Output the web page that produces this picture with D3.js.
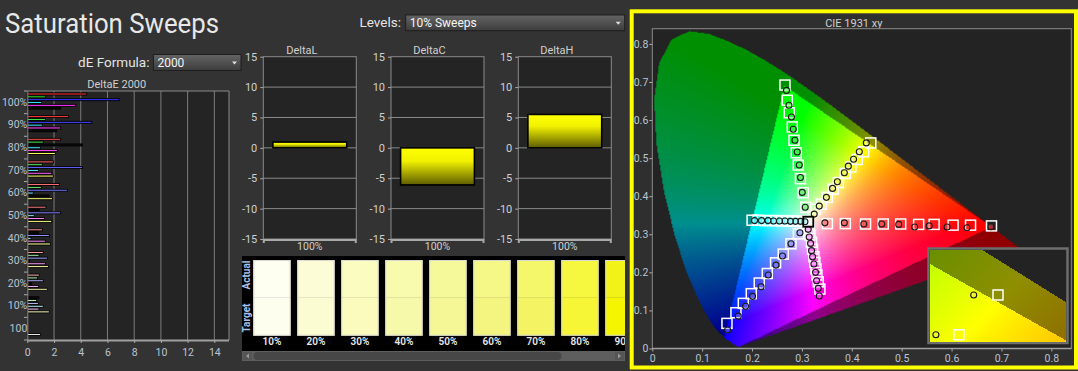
<!DOCTYPE html>
<html><head><meta charset="utf-8">
<script src="https://cdn.jsdelivr.net/npm/d3@7"></script>
<style>
body{margin:0;background:#333;overflow:hidden}
svg{display:block;font-family:Roboto,"Noto Sans",sans-serif}
</style>
</head><body>
<svg id="c" width="1078" height="371"></svg>
<script>
// ---------------- DATA ----------------
const deLevels = ["100%","90%","80%","70%","60%","50%","40%","30%","20%","10%","100"];
const deSeries = ["Red","Green","Blue","Cyan","Magenta","Yellow"];
const deRed     = [4.45,3.10,2.50,1.95,2.40,1.40,1.13,1.20,0.90,0.87];
const deGreen   = [1.35,1.35,1.20,1.13,1.05,0.90,0.85,0.88,0.77,0.70];
const deBlue    = [6.88,4.83,4.13,4.13,3.00,2.50,1.65,1.50,1.20,0.83];
const deCyan    = [1.08,1.13,0.98,0.83,0.45,0.52,0.28,0.18,0.33,1.20];
const deMagenta = [3.63,2.50,2.25,1.83,1.63,1.28,1.35,1.35,0.85,0.87];
const deYellow  = [2.50,2.20,2.10,1.95,1.88,1.83,1.73,1.58,1.50,1.65];
const deWhite100 = 1.0;
const deTicks = [0,2,4,6,8,10,12,14];

const deltaCats = ["100%"];
const deltaL = [0.95];
const deltaC = [-6.1];
const deltaH = [5.5];
const deltaTicks = [-15,-10,-5,0,5,10,15];

const swatchLevels = ["10%","20%","30%","40%","50%","60%","70%","80%","90%"];
const swatchActual = ["#fefff0","#fcfdd6","#fafcc0","#f8fbae","#f6f99a","#f5f886","#f5f76a","#f6f840","#f2f218"];
const swatchTarget = ["#fefeee","#fcfcd3","#fafbbd","#f7f9aa","#f5f796","#f4f480","#f4f364","#f6f636","#f5f500"];

const cieTicks = [0,0.1,0.2,0.3,0.4,0.5,0.6,0.7,0.8];
const redTargetX = [0.351,0.387,0.4275,0.463,0.498,0.534,0.565,0.603,0.638,0.680];
const redTargetY = [0.328,0.328,0.327,0.327,0.327,0.326,0.326,0.324,0.324,0.322];
const redMeasX   = [0.346,0.385,0.424,0.460,0.494,0.526,0.555,0.591,0.631,0.679];
const redMeasY   = [0.330,0.330,0.327,0.327,0.326,0.319,0.322,0.319,0.317,0.320];
const greenTargetX = [0.308,0.3026,0.297,0.2926,0.2886,0.284,0.2806,0.2745,0.2705,0.266];
const greenTargetY = [0.371,0.409,0.446,0.482,0.514,0.547,0.582,0.619,0.652,0.692];
const greenMeasX   = [0.3066,0.3006,0.297,0.2946,0.2906,0.286,0.2826,0.279,0.274,0.269];
const greenMeasY   = [0.371,0.410,0.449,0.482,0.516,0.547,0.576,0.608,0.639,0.678];
const blueTargetX = [0.293,0.278,0.2625,0.2471,0.2305,0.2144,0.1984,0.1824,0.1677,0.1497];
const blueTargetY = [0.301,0.275,0.248,0.225,0.197,0.172,0.144,0.1186,0.094,0.066];
const blueMeasX   = [0.296,0.278,0.261,0.248,0.2325,0.218,0.201,0.187,0.1723,0.151];
const blueMeasY   = [0.304,0.275,0.243,0.219,0.193,0.162,0.137,0.111,0.085,0.0486];
const cyanTargetX = [0.302,0.292,0.281,0.270,0.259,0.248,0.236,0.225,0.212,0.200];
const cyanTargetY = [0.334,0.334,0.335,0.335,0.335,0.336,0.336,0.336,0.337,0.337];
const cyanMeasX   = [0.306,0.297,0.287,0.277,0.266,0.255,0.243,0.232,0.219,0.205];
const cyanMeasY   = [0.333,0.334,0.334,0.334,0.335,0.335,0.335,0.336,0.336,0.336];
const magentaTargetX = [0.3146,0.316,0.3193,0.3213,0.324,0.326,0.328,0.330,0.3327,0.336];
const magentaTargetY = [0.3155,0.298,0.279,0.261,0.241,0.226,0.209,0.193,0.175,0.156];
const magentaMeasX   = [0.3126,0.3146,0.3173,0.3193,0.3213,0.324,0.3273,0.3293,0.3327,0.3347];
const magentaMeasY   = [0.313,0.293,0.276,0.257,0.241,0.222,0.200,0.178,0.158,0.138];
const yellowTargetX = [0.327,0.339,0.3507,0.3627,0.373,0.387,0.398,0.411,0.4235,0.438];
const yellowTargetY = [0.366,0.379,0.397,0.4186,0.436,0.460,0.477,0.4966,0.5166,0.540];
const yellowMeasX   = [0.3246,0.3347,0.349,0.3614,0.371,0.385,0.393,0.4035,0.415,0.429];
const yellowMeasY   = [0.353,0.374,0.397,0.4205,0.438,0.4615,0.479,0.497,0.5166,0.540];
const whiteTarget = [0.3127,0.333];

// CIE 1931 spectral locus (x, y)
const locusX = [0.1741,0.1740,0.1738,0.1736,0.1733,0.1730,0.1726,0.1721,0.1714,0.1703,0.1689,0.1669,0.1644,0.1611,0.1566,0.1510,0.1440,0.1355,0.1241,0.1096,0.0913,0.0687,0.0454,0.0235,0.0082,0.0039,0.0139,0.0389,0.0743,0.1142,0.1547,0.1929,0.2296,0.2658,0.3016,0.3373,0.3731,0.4087,0.4441,0.4788,0.5125,0.5448,0.5752,0.6029,0.6270,0.6482,0.6658,0.6801,0.6915,0.7006,0.7079,0.7140,0.7190,0.7230,0.7260,0.7283,0.7300,0.7311,0.7320,0.7334,0.7347];
const locusY = [0.0050,0.0050,0.0049,0.0049,0.0048,0.0048,0.0048,0.0048,0.0051,0.0058,0.0069,0.0086,0.0109,0.0138,0.0177,0.0227,0.0297,0.0399,0.0578,0.0868,0.1327,0.2007,0.2950,0.4127,0.5384,0.6548,0.7502,0.8120,0.8338,0.8262,0.8059,0.7816,0.7543,0.7243,0.6923,0.6589,0.6245,0.5896,0.5547,0.5202,0.4866,0.4544,0.4242,0.3965,0.3725,0.3514,0.3340,0.3197,0.3083,0.2993,0.2920,0.2859,0.2809,0.2770,0.2740,0.2717,0.2700,0.2689,0.2680,0.2666,0.2653];
// target gamut (P3) vertices used for the bright region
const gamutX = [0.265,0.680,0.1741,0.139];
const gamutY = [0.690,0.320,0.005,0.000];

// ---------------- STYLE ----------------
const seriesColor = {Red:"#ff3030",Green:"#30e030",Blue:"#3535ff",Cyan:"#30e0ff",Magenta:"#ff35ff",Yellow:"#ffff40"};
const darkBars = [[0,5],[1,5],[2,2],[4,4],[5,1],[6,1],[7,3],[8,3],[9,0]];
const axisTxt = "#b9c4d2";

const svg = d3.select("#c");
const defs = svg.append("defs");
svg.append("rect").attr("width",1078).attr("height",371).attr("fill","#333333");

const dd = defs.append("linearGradient").attr("id","ddg").attr("x1",0).attr("y1",0).attr("x2",0).attr("y2",1);
dd.append("stop").attr("offset",0).attr("stop-color","#646464");
dd.append("stop").attr("offset",1).attr("stop-color","#3d3d3d");
const yg = defs.append("linearGradient").attr("id","yg").attr("x1",0).attr("y1",0).attr("x2",0).attr("y2",1);
yg.append("stop").attr("offset",0).attr("stop-color","#ffff00");
yg.append("stop").attr("offset",0.35).attr("stop-color","#f2f200");
yg.append("stop").attr("offset",1).attr("stop-color","#5e5c00");

// ---------------- HEADER ----------------
svg.append("text").attr("x",5).attr("y",33).text("Saturation Sweeps")
  .attr("font-size",28).attr("fill","#e8e8e8").attr("textLength",214).attr("lengthAdjust","spacingAndGlyphs");

function dropdown(x,y,w,h,lbl,lx,ly,val){
  svg.append("text").attr("x",lx).attr("y",ly).attr("text-anchor","end").text(lbl)
    .attr("font-size",13.5).attr("fill","#e4e4e4");
  svg.append("rect").attr("x",x).attr("y",y).attr("width",w).attr("height",h)
    .attr("fill","url(#ddg)").attr("stroke","#1e1e1e");
  svg.append("text").attr("x",x+4).attr("y",y+h/2+4.3).text(val).attr("font-size",12).attr("fill","#f4f4f4");
  svg.append("path").attr("d",`M${x+w-9},${y+h/2-1}h5l-2.5,3z`).attr("fill","#e0e0e0");
}
dropdown(405.7,15,219,15.7,"Levels:",401,27.3,"10% Sweeps");
dropdown(153.4,54.5,87.6,16,"dE Formula:",149.5,66.7,"2000");

// ---------------- DELTA E CHART ----------------
const deX = d3.scaleLinear().domain([0,15]).range([27.3,227.7]);
const deY = d3.scaleBand().domain(deLevels).range([91,340]);
const deIn = d3.scaleBand().domain(deSeries).range([1.6,18.6]);
const deG = svg.append("g");
deG.append("rect").attr("x",27.3).attr("y",91).attr("width",229-27.3).attr("height",249).attr("fill","#242424");
deG.selectAll("line.grid").data(deTicks.slice(1)).join("line")
  .attr("x1",d=>deX(d)).attr("x2",d=>deX(d)).attr("y1",91).attr("y2",340)
  .attr("stroke","#7c7c7c").attr("stroke-width",1);
deG.append("path").attr("d","M27.3,91H229V340").attr("fill","none").attr("stroke","#8a8a8a");
deG.append("text").attr("x",116.7).attr("y",88).attr("text-anchor","middle").text("DeltaE 2000")
  .attr("font-size",11).attr("fill","#cfcfcf");

const deVals = [deRed,deGreen,deBlue,deCyan,deMagenta,deYellow];
const isDark = (i,j)=>darkBars.some(p=>p[0]===i&&p[1]===j);
const barData = [];
deLevels.slice(0,10).forEach((lv,i)=>{
  const t = 1 - i*0.1;
  deSeries.forEach((s,j)=>{
    const col = isDark(i,j) ? "#0c0c0c" : d3.interpolateRgb("#f2f2f2", seriesColor[s])(0.2+0.8*t);
    barData.push({lv, s, v:deVals[j][i], col});
  });
});
barData.push({lv:"100", s:"Yellow", v:deWhite100, col:"#e6e6e6"});
deG.selectAll("rect.bar").data(barData).join("rect")
  .attr("x",deX(0)).attr("y",d=>deY(d.lv)+deIn(d.s)+0.4)
  .attr("width",d=>deX(d.v)-deX(0)).attr("height",2)
  .attr("fill",d=>d.col).attr("stroke","#000").attr("stroke-width",0.9);

const deAxB = deG.append("g").attr("transform","translate(0,340)")
  .call(d3.axisBottom(deX).tickValues(deTicks).tickSize(3).tickFormat(d=>String(d)));
deAxB.select(".domain").attr("stroke","#a0a0a0").attr("stroke-width",2).attr("d","M27.3,0.5H229");
deAxB.selectAll(".tick line").attr("stroke","#aaa");
deAxB.selectAll(".tick text").attr("fill",axisTxt).attr("font-size",10.5).attr("dy","0.95em").attr("font-family","Roboto");
const deAxL = deG.append("g").attr("transform","translate(27.3,0)")
  .call(d3.axisLeft(deY).tickSize(0).tickPadding(0));
deAxL.select(".domain").attr("stroke","#8a8a8a");
deAxL.selectAll(".tick text").attr("fill",axisTxt).attr("font-size",10.5).attr("font-family","Roboto");
deG.selectAll("line.bt").data(d3.range(12)).join("line")
  .attr("x1",24).attr("x2",27.3).attr("y1",d=>91+d*deY.step()).attr("y2",d=>91+d*deY.step())
  .attr("stroke","#aaa");

// ---------------- DELTA L / C / H ----------------
const dy = d3.scaleLinear().domain([-15,15]).range([239,56.7]);
const panels = [{name:"DeltaL",vals:deltaL,L:263.3},{name:"DeltaC",vals:deltaC,L:391},{name:"DeltaH",vals:deltaH,L:518.3}];
panels.forEach(p=>{
  const W = 93;
  const bx = d3.scaleBand().domain(deltaCats).range([p.L,p.L+W]).padding(0.115);
  const g = svg.append("g");
  g.append("rect").attr("x",p.L).attr("y",dy(15)).attr("width",W).attr("height",dy(-15)-dy(15))
    .attr("fill","#242424").attr("stroke","#8a8a8a");
  g.selectAll("line.gr").data(deltaTicks.slice(1,-1)).join("line")
    .attr("x1",p.L).attr("x2",p.L+W).attr("y1",d=>dy(d)).attr("y2",d=>dy(d)).attr("stroke","#8a8a8a");
  g.append("text").attr("x",p.L+W/2-8).attr("y",53.5).attr("text-anchor","middle").text(p.name)
    .attr("font-size",11).attr("fill","#d0d0d0");
  g.selectAll("rect.b").data(p.vals).join("rect")
    .attr("x",(d,i)=>bx(deltaCats[i])).attr("width",bx.bandwidth())
    .attr("y",d=>dy(Math.max(0,d))).attr("height",d=>Math.abs(dy(d)-dy(0)))
    .attr("fill","url(#yg)").attr("stroke","#000").attr("stroke-width",1.6);
  const ax = g.append("g").attr("transform",`translate(${p.L},0)`)
    .call(d3.axisLeft(dy).tickValues(deltaTicks).tickSize(3).tickFormat(d=>String(d)));
  ax.select(".domain").remove();
  ax.selectAll(".tick line").attr("stroke","#aaa");
  ax.selectAll(".tick text").attr("fill","#d0d0d0").attr("font-size",11).attr("font-family","Roboto");
  g.append("path").attr("d",`M${p.L},${dy(-15)+1}H${p.L+W}M${p.L+0.5},${dy(-15)}v4M${p.L+W-0.5},${dy(-15)}v4`)
    .attr("stroke","#a8a8a8").attr("stroke-width",2).attr("fill","none");
  g.selectAll("text.xl").data(deltaCats).join("text")
    .attr("x",d=>bx(d)+bx.bandwidth()/2).attr("y",249.5).attr("text-anchor","middle").text(d=>d)
    .attr("font-size",10.5).attr("fill","#d0d0d0");
});

// ---------------- SWATCHES ----------------
defs.append("clipPath").attr("id","swclip").append("rect").attr("x",242).attr("y",256).attr("width",383).attr("height",95);
svg.append("rect").attr("x",242).attr("y",256).attr("width",383).attr("height",95).attr("fill","#000");
const sw = svg.append("g").attr("clip-path","url(#swclip)");
const sx = d3.scaleBand().domain(swatchLevels).range([249.95,645.95]).paddingInner(0.152).paddingOuter(0.076);
sw.selectAll("rect.a").data(swatchLevels).join("rect")
  .attr("x",d=>sx(d)).attr("y",260).attr("width",sx.bandwidth()).attr("height",37.9)
  .attr("fill",(d,i)=>swatchActual[i]);
sw.selectAll("rect.t").data(swatchLevels).join("rect")
  .attr("x",d=>sx(d)).attr("y",297.9).attr("width",sx.bandwidth()).attr("height",37.8)
  .attr("fill",(d,i)=>swatchTarget[i]);
sw.selectAll("rect.o").data(swatchLevels).join("rect")
  .attr("x",d=>sx(d)+0.5).attr("y",260.5).attr("width",sx.bandwidth()-1).attr("height",74.7)
  .attr("fill","none").attr("stroke","#d8d8d0").attr("stroke-width",1);
sw.selectAll("text.l").data(swatchLevels).join("text")
  .attr("x",d=>sx(d)+sx.bandwidth()/2).attr("y",345).attr("text-anchor","middle").text(d=>d)
  .attr("font-size",10).attr("font-weight",600).attr("fill","#e8e8e8");
svg.append("text").attr("transform","translate(249.5,275) rotate(-90)").attr("text-anchor","middle")
  .text("Actual").attr("font-size",10).attr("font-weight",700).attr("fill","#a9c3e8");
svg.append("text").attr("transform","translate(249.5,318) rotate(-90)").attr("text-anchor","middle")
  .text("Target").attr("font-size",10).attr("font-weight",700).attr("fill","#a9c3e8");
svg.append("rect").attr("x",242).attr("y",351).attr("width",383).attr("height",10).attr("fill","#5e5e5e");
svg.append("rect").attr("x",253.5).attr("y",352).attr("width",308).attr("height",8).attr("rx",4).attr("fill","#474747");
svg.append("rect").attr("x",243).attr("y",352).attr("width",9).attr("height",8).attr("fill","#555");
svg.append("rect").attr("x",615).attr("y",352).attr("width",9).attr("height",8).attr("fill","#555");
svg.append("path").attr("d","M249,353.5v5l-3,-2.5z").attr("fill","#999");
svg.append("path").attr("d","M618,353.5v5l3,-2.5z").attr("fill","#999");

// ---------------- CIE ----------------
svg.append("rect").attr("x",631.7).attr("y",11.3).attr("width",444.3).attr("height",356.2)
  .attr("fill","#2f2f2f").attr("stroke","#ffff00").attr("stroke-width",4);
svg.append("text").attr("x",853.8).attr("y",26.5).attr("text-anchor","middle").text("CIE 1931 xy")
  .attr("font-size",11).attr("fill","#cfcfcf");

const xs = d3.scaleLinear().domain([0,0.84]).range([652.3,1071.3]);
const ys = d3.scaleLinear().domain([0,0.84]).range([348.5,28.7]);
const locusPoly = locusX.map((x,i)=>[x,locusY[i]]);
const brightPoly = gamutX.map((x,i)=>[x,gamutY[i]]);

function chroma(x,y){
  const X=x/y, Z=(1-x-y)/y;
  let r=3.2406*X-1.5372-0.4986*Z, g=-0.9689*X+1.8758+0.0415*Z, b=0.0557*X-0.2040+1.0570*Z;
  r=Math.max(0,r); g=Math.max(0,g); b=Math.max(0,b);
  const m=Math.max(r,g,b)||1;
  const gm=c=>255*Math.pow(c/m,1/1.25);
  return [gm(r),gm(g),gm(b)];
}
function renderDiagram(xS,yS,x0,y0,w,h){
  const cv=document.createElement("canvas"); cv.width=w; cv.height=h;
  const ctx=cv.getContext("2d"); const img=ctx.createImageData(w,h);
  for(let j=0;j<h;j++) for(let i=0;i<w;i++){
    const x=xS.invert(x0+i+0.5), y=yS.invert(y0+j+0.5), k=(j*w+i)*4;
    if(y>0 && d3.polygonContains(locusPoly,[x,y])){
      const c=chroma(x,y); const f=d3.polygonContains(brightPoly,[x,y])?1:0.56;
      img.data[k]=c[0]*f; img.data[k+1]=c[1]*f; img.data[k+2]=c[2]*f;
    } else { img.data[k]=35; img.data[k+1]=35; img.data[k+2]=35; }
    img.data[k+3]=255;
  }
  ctx.putImageData(img,0,0);
  return cv.toDataURL();
}
const PW=419, PH=320;
svg.append("image").attr("x",652.3).attr("y",28.7).attr("width",PW).attr("height",PH)
  .attr("preserveAspectRatio","none").attr("href",renderDiagram(xs,ys,652.3,28.7,PW,PH));
svg.append("rect").attr("x",652.3).attr("y",28.7).attr("width",PW).attr("height",PH-0.2)
  .attr("fill","none").attr("stroke","#8c8c8c");

const cieAxL = svg.append("g").attr("transform","translate(652.3,0)")
  .call(d3.axisLeft(ys).tickValues(cieTicks).tickSize(3).tickPadding(1).tickFormat(d=>d===0?"0":d3.format(".1f")(d)));
cieAxL.select(".domain").remove();
cieAxL.selectAll(".tick line").attr("stroke","#aaa");
cieAxL.selectAll(".tick text").attr("fill",axisTxt).attr("font-size",10.5).attr("font-family","Roboto");
const cieAxB = svg.append("g").attr("transform","translate(0,348.5)")
  .call(d3.axisBottom(xs).tickValues(cieTicks).tickSize(3).tickFormat(d=>d===0?"0":d3.format(".1f")(d)));
cieAxB.select(".domain").attr("stroke","#a0a0a0").attr("stroke-width",1.5).attr("d","M652.3,0H1071.3");
cieAxB.selectAll(".tick line").attr("stroke","#aaa");
cieAxB.selectAll(".tick text").attr("fill",axisTxt).attr("font-size",10.5).attr("font-family","Roboto");

const cieSeries = [
  {n:"Red",tx:redTargetX,ty:redTargetY,mx:redMeasX,my:redMeasY},
  {n:"Green",tx:greenTargetX,ty:greenTargetY,mx:greenMeasX,my:greenMeasY},
  {n:"Blue",tx:blueTargetX,ty:blueTargetY,mx:blueMeasX,my:blueMeasY},
  {n:"Cyan",tx:cyanTargetX,ty:cyanTargetY,mx:cyanMeasX,my:cyanMeasY},
  {n:"Magenta",tx:magentaTargetX,ty:magentaTargetY,mx:magentaMeasX,my:magentaMeasY},
  {n:"Yellow",tx:yellowTargetX,ty:yellowTargetY,mx:yellowMeasX,my:yellowMeasY}
];
const pointFill = {Red:"#f05050",Green:"#60e060",Blue:"#8080f0",Cyan:"#90f0ff",Magenta:"#f070f0",Yellow:"#f0f070"};
function drawPoints(g,xS,yS){
  const sq=[], ci=[];
  cieSeries.forEach(s=>{
    s.tx.forEach((x,i)=>sq.push({x,y:s.ty[i]}));
    s.mx.forEach((x,i)=>ci.push({x,y:s.my[i],n:s.n}));
  });
  g.selectAll("rect.sq").data(sq).join("rect")
    .attr("x",d=>xS(d.x)-5).attr("y",d=>yS(d.y)-5).attr("width",10).attr("height",10)
    .attr("fill","none").attr("stroke","#ffffff").attr("stroke-width",1.5);
  g.selectAll("circle.ci").data(ci).join("circle")
    .attr("cx",d=>xS(d.x)).attr("cy",d=>yS(d.y)).attr("r",3)
    .attr("fill",d=>pointFill[d.n]).attr("fill-opacity",0.45).attr("stroke","#1a1a1a").attr("stroke-width",1.1);
  g.append("rect").attr("x",xS(whiteTarget[0])-5).attr("y",yS(whiteTarget[1])-5).attr("width",10).attr("height",10)
    .attr("fill","none").attr("stroke","#000").attr("stroke-width",1.8);
}
defs.append("clipPath").attr("id","cieclip").append("rect").attr("x",652.3).attr("y",28.7).attr("width",PW).attr("height",PH);
drawPoints(svg.append("g").attr("clip-path","url(#cieclip)"),xs,ys);

// inset zoom
const IX0=930, IX1=1066, IY0=250, IY1=341.5;
const kx=2700, ky=1700, cx=0.438, cy=0.540, cpx=998, cpy=295;
const ixs = d3.scaleLinear().domain([cx-(cpx-IX0)/kx, cx+(IX1-cpx)/kx]).range([IX0,IX1]);
const iys = d3.scaleLinear().domain([cy-(IY1-cpy)/ky, cy+(cpy-IY0)/ky]).range([IY1,IY0]);
svg.append("rect").attr("x",IX0-1.5).attr("y",IY0-1.5).attr("width",IX1-IX0+3).attr("height",IY1-IY0+3)
  .attr("fill","#232323").attr("stroke","#6e6e6e").attr("stroke-width",2.5);
const IW=IX1-IX0, IH=Math.round(IY1-IY0);
svg.append("image").attr("x",IX0).attr("y",IY0).attr("width",IW).attr("height",IH)
  .attr("preserveAspectRatio","none").attr("href",renderDiagram(ixs,iys,IX0,IY0,IW,IH));
defs.append("clipPath").attr("id","inclip").append("rect").attr("x",IX0).attr("y",IY0).attr("width",IW).attr("height",IH);
drawPoints(svg.append("g").attr("clip-path","url(#inclip)"),ixs,iys);
</script>
</body></html>
